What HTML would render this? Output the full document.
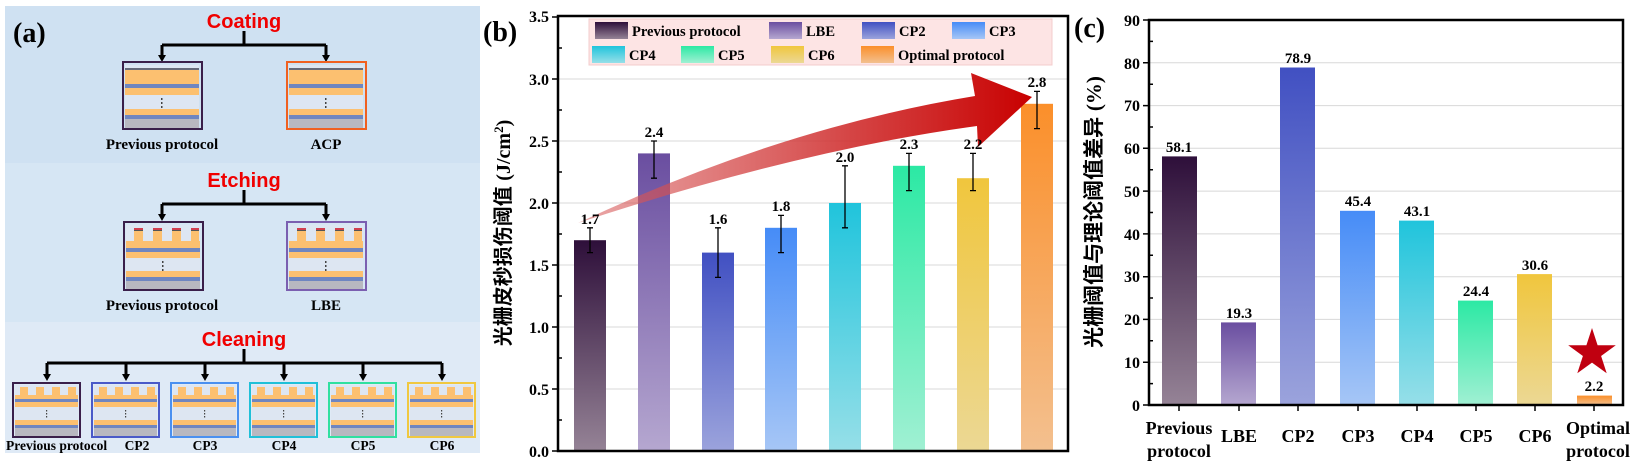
<!DOCTYPE html>
<html><head><meta charset="utf-8"><style>
html,body{margin:0;padding:0;background:#fff;}
svg{display:block;}
.s{font-family:"Liberation Serif","Noto Serif CJK SC",serif;font-weight:bold;}
.h{font-family:"Liberation Sans","Noto Sans CJK SC",sans-serif;font-weight:bold;}
</style></head><body>
<svg width="1635" height="469" viewBox="0 0 1635 469" xmlns="http://www.w3.org/2000/svg">
<defs>
<linearGradient id="g0" x1="0" y1="0" x2="0" y2="1"><stop offset="0" stop-color="#2e0f3a"/><stop offset="1" stop-color="#958396"/></linearGradient>
<linearGradient id="g1" x1="0" y1="0" x2="0" y2="1"><stop offset="0" stop-color="#6a4ea0"/><stop offset="1" stop-color="#b5a7d0"/></linearGradient>
<linearGradient id="g2" x1="0" y1="0" x2="0" y2="1"><stop offset="0" stop-color="#4150c2"/><stop offset="1" stop-color="#9ba3dc"/></linearGradient>
<linearGradient id="g3" x1="0" y1="0" x2="0" y2="1"><stop offset="0" stop-color="#468cf7"/><stop offset="1" stop-color="#a6c6f6"/></linearGradient>
<linearGradient id="g4" x1="0" y1="0" x2="0" y2="1"><stop offset="0" stop-color="#20c4dc"/><stop offset="1" stop-color="#96dfe8"/></linearGradient>
<linearGradient id="g5" x1="0" y1="0" x2="0" y2="1"><stop offset="0" stop-color="#2ce9a4"/><stop offset="1" stop-color="#a0f0d3"/></linearGradient>
<linearGradient id="g6" x1="0" y1="0" x2="0" y2="1"><stop offset="0" stop-color="#f0c63d"/><stop offset="1" stop-color="#ecd894"/></linearGradient>
<linearGradient id="g7" x1="0" y1="0" x2="0" y2="1"><stop offset="0" stop-color="#fb8f2a"/><stop offset="1" stop-color="#f3c08f"/></linearGradient>
<linearGradient id="ar" x1="578" y1="0" x2="1032" y2="0" gradientUnits="userSpaceOnUse"><stop offset="0" stop-color="#d86060" stop-opacity="0.55"/><stop offset="0.6" stop-color="#d03030" stop-opacity="0.9"/><stop offset="1" stop-color="#c80000"/></linearGradient>
<g id="stC">
<rect x="0" y="0" width="74" height="61" fill="#dde6f2"/>
<rect x="0" y="3" width="74" height="2" fill="#666a7a"/>
<rect x="0" y="5" width="74" height="14" fill="#fcc070"/>
<rect x="0" y="19" width="74" height="4" fill="#6f86c0"/>
<rect x="0" y="23" width="74" height="7" fill="#fcc070"/>
<rect x="36" y="33" width="1.5" height="2" fill="#444"/><rect x="36" y="37" width="1.5" height="2" fill="#444"/><rect x="36" y="41" width="1.5" height="2" fill="#444"/>
<rect x="0" y="44" width="74" height="6" fill="#fcc070"/>
<rect x="0" y="50" width="74" height="4" fill="#6f86c0"/>
<rect x="0" y="54" width="74" height="10" fill="#b8b8c0"/>
</g>
<g id="stE">
<rect x="0" y="0" width="74" height="62" fill="#dde6f2"/>
<rect x="8" y="3" width="9" height="2" fill="#d04050"/><rect x="27" y="3" width="9" height="2" fill="#d04050"/><rect x="46" y="3" width="9" height="2" fill="#d04050"/><rect x="65" y="3" width="8" height="2" fill="#d04050"/>
<rect x="8" y="5" width="9" height="1" fill="#555"/><rect x="27" y="5" width="9" height="1" fill="#555"/><rect x="46" y="5" width="9" height="1" fill="#555"/><rect x="65" y="5" width="8" height="1" fill="#555"/>
<rect x="8" y="6" width="9" height="12" fill="#fcc070"/><rect x="27" y="6" width="9" height="12" fill="#fcc070"/><rect x="46" y="6" width="9" height="12" fill="#fcc070"/><rect x="65" y="6" width="8" height="12" fill="#fcc070"/>
<rect x="0" y="16" width="74" height="7" fill="#fcc070"/>
<rect x="0" y="23" width="74" height="4" fill="#6f86c0"/>
<rect x="0" y="27" width="74" height="6" fill="#fcc070"/>
<rect x="36" y="36" width="1.5" height="2" fill="#444"/><rect x="36" y="40" width="1.5" height="2" fill="#444"/><rect x="36" y="44" width="1.5" height="2" fill="#444"/>
<rect x="0" y="46" width="74" height="6" fill="#fcc070"/>
<rect x="0" y="52" width="74" height="4" fill="#6f86c0"/>
<rect x="0" y="56" width="74" height="9" fill="#b8b8c0"/>
</g>
<g id="stK">
<rect x="0" y="0" width="63" height="50" fill="#dde6f2"/>
<rect x="5" y="2" width="8" height="9" fill="#fcc070"/><rect x="21" y="2" width="8" height="9" fill="#fcc070"/><rect x="37" y="2" width="8" height="9" fill="#fcc070"/><rect x="53" y="2" width="8" height="9" fill="#fcc070"/>
<rect x="0" y="10" width="63" height="4" fill="#fcc070"/>
<rect x="0" y="14" width="63" height="3" fill="#6f86c0"/>
<rect x="0" y="17" width="63" height="5" fill="#fcc070"/>
<rect x="31" y="25" width="1.2" height="1.5" fill="#444"/><rect x="31" y="28" width="1.2" height="1.5" fill="#444"/><rect x="31" y="31" width="1.2" height="1.5" fill="#444"/>
<rect x="0" y="35" width="63" height="5" fill="#fcc070"/>
<rect x="0" y="40" width="63" height="3" fill="#6f86c0"/>
<rect x="0" y="43" width="63" height="8" fill="#b8b8c0"/>
</g>
</defs>

<!-- Panel a -->
<rect x="5" y="6" width="475" height="157" fill="#cfe1f2"/>
<rect x="5" y="163" width="475" height="159" fill="#d6e6f4"/>
<rect x="5" y="322" width="475" height="131" fill="#dfeaf6"/>
<text x="13" y="42" class="s" font-size="28">(a)</text>

<text x="244" y="28" class="h" font-size="20" fill="#f00000" text-anchor="middle">Coating</text>
<path d="M244 31 V45 M162 45 H326 M162 45 V57 M326 45 V57" stroke="#000" stroke-width="3" fill="none"/>
<path d="M158 55 L166 55 L162 62 Z M322 55 L330 55 L326 62 Z" fill="#000"/>
<use href="#stC" x="125" y="65"/><rect x="123" y="62" width="79" height="67" fill="none" stroke="#3a1f4a" stroke-width="2"/>
<use href="#stC" x="289" y="65"/><rect x="287" y="62" width="79" height="67" fill="none" stroke="#f06020" stroke-width="2"/>
<text x="162" y="149" class="s" font-size="15" text-anchor="middle">Previous protocol</text>
<text x="326" y="149" class="s" font-size="15" text-anchor="middle">ACP</text>

<text x="244" y="187" class="h" font-size="20" fill="#f00000" text-anchor="middle">Etching</text>
<path d="M244 190 V204 M162 204 H326 M162 204 V216 M326 204 V216" stroke="#000" stroke-width="3" fill="none"/>
<path d="M158 214 L166 214 L162 221 Z M322 214 L330 214 L326 221 Z" fill="#000"/>
<use href="#stE" x="126" y="225"/><rect x="124" y="222" width="79" height="68" fill="none" stroke="#3a1f4a" stroke-width="2"/>
<use href="#stE" x="289" y="225"/><rect x="287" y="222" width="79" height="68" fill="none" stroke="#7b5fb0" stroke-width="2"/>
<text x="162" y="310" class="s" font-size="15" text-anchor="middle">Previous protocol</text>
<text x="326" y="310" class="s" font-size="15" text-anchor="middle">LBE</text>

<text x="244" y="346" class="h" font-size="20" fill="#f00000" text-anchor="middle">Cleaning</text>
<path d="M244 349 V363 M47 363 H442 M47 363 V376 M126 363 V376 M205 363 V376 M284 363 V376 M363 363 V376 M442 363 V376" stroke="#000" stroke-width="3" fill="none"/>
<path d="M43 374 L51 374 L47 381 Z M122 374 L130 374 L126 381 Z M201 374 L209 374 L205 381 Z M280 374 L288 374 L284 381 Z M359 374 L367 374 L363 381 Z M438 374 L446 374 L442 381 Z" fill="#000"/>
<use href="#stK" x="15" y="385"/><rect x="13" y="383" width="67" height="54" fill="none" stroke="#3a1f4a" stroke-width="2"/>
<use href="#stK" x="94" y="385"/><rect x="92" y="383" width="67" height="54" fill="none" stroke="#4a5ac8" stroke-width="2"/>
<use href="#stK" x="173" y="385"/><rect x="171" y="383" width="67" height="54" fill="none" stroke="#4a90f0" stroke-width="2"/>
<use href="#stK" x="252" y="385"/><rect x="250" y="383" width="67" height="54" fill="none" stroke="#20c0d8" stroke-width="2"/>
<use href="#stK" x="331" y="385"/><rect x="329" y="383" width="67" height="54" fill="none" stroke="#30e0a0" stroke-width="2"/>
<use href="#stK" x="410" y="385"/><rect x="408" y="383" width="67" height="54" fill="none" stroke="#f0c840" stroke-width="2"/>
<text x="6" y="450" class="s" font-size="13.5">Previous protocol</text>
<text x="137" y="450" class="s" font-size="13.5" text-anchor="middle">CP2</text>
<text x="205" y="450" class="s" font-size="13.5" text-anchor="middle">CP3</text>
<text x="284" y="450" class="s" font-size="13.5" text-anchor="middle">CP4</text>
<text x="363" y="450" class="s" font-size="13.5" text-anchor="middle">CP5</text>
<text x="442" y="450" class="s" font-size="13.5" text-anchor="middle">CP6</text>

<!-- Panel b -->
<g stroke="#d8d8d8" stroke-width="1">
<line x1="558" y1="389" x2="1068" y2="389"/><line x1="558" y1="327" x2="1068" y2="327"/><line x1="558" y1="265" x2="1068" y2="265"/><line x1="558" y1="203" x2="1068" y2="203"/><line x1="558" y1="141" x2="1068" y2="141"/><line x1="558" y1="79" x2="1068" y2="79"/>
</g>
<rect x="574" y="240.2" width="32" height="210.8" fill="url(#g0)"/>
<rect x="638" y="153.4" width="32" height="297.6" fill="url(#g1)"/>
<rect x="702" y="252.6" width="32" height="198.4" fill="url(#g2)"/>
<rect x="765" y="227.8" width="32" height="223.2" fill="url(#g3)"/>
<rect x="829" y="203" width="32" height="248" fill="url(#g4)"/>
<rect x="893" y="165.8" width="32" height="285.2" fill="url(#g5)"/>
<rect x="957" y="178.2" width="32" height="272.8" fill="url(#g6)"/>
<rect x="1021" y="103.8" width="32" height="347.2" fill="url(#g7)"/>
<path d="M578 223 Q780 128 975 96 L971 73 L1032 97 L978 147 L977 126 Q800 150 578 223 Z" fill="url(#ar)"/>
<g stroke="#000" stroke-width="1.3">
<path d="M590 252.6 V227.8 M587 252.6 H593 M587 227.8 H593"/>
<path d="M654 178.2 V141 M651 178.2 H657 M651 141 H657"/>
<path d="M718 277.4 V227.8 M715 277.4 H721 M715 227.8 H721"/>
<path d="M781 252.6 V215.4 M778 252.6 H784 M778 215.4 H784"/>
<path d="M845 227.8 V165.8 M842 227.8 H848 M842 165.8 H848"/>
<path d="M909 190.6 V153.4 M906 190.6 H912 M906 153.4 H912"/>
<path d="M973 190.6 V153.4 M970 190.6 H976 M970 153.4 H976"/>
<path d="M1037 128.6 V91.4 M1034 128.6 H1040 M1034 91.4 H1040"/>
</g>
<g class="s" font-size="15" text-anchor="middle">
<text x="590" y="224">1.7</text><text x="654" y="137">2.4</text><text x="718" y="224">1.6</text><text x="781" y="211">1.8</text><text x="845" y="162">2.0</text><text x="909" y="149">2.3</text><text x="973" y="149">2.2</text><text x="1037" y="87">2.8</text>
</g>
<rect x="589" y="19" width="463" height="46" fill="#fde4e4" stroke="#f3cccc" stroke-width="1"/>
<rect x="595" y="22" width="33" height="17" fill="url(#g0)"/><text x="632" y="36" class="s" font-size="14.5">Previous protocol</text>
<rect x="769" y="22" width="33" height="17" fill="url(#g1)"/><text x="806" y="36" class="s" font-size="14.5">LBE</text>
<rect x="862" y="22" width="33" height="17" fill="url(#g2)"/><text x="899" y="36" class="s" font-size="14.5">CP2</text>
<rect x="952" y="22" width="33" height="17" fill="url(#g3)"/><text x="989" y="36" class="s" font-size="14.5">CP3</text>
<rect x="592" y="46" width="33" height="17" fill="url(#g4)"/><text x="629" y="60" class="s" font-size="14.5">CP4</text>
<rect x="681" y="46" width="33" height="17" fill="url(#g5)"/><text x="718" y="60" class="s" font-size="14.5">CP5</text>
<rect x="771" y="46" width="33" height="17" fill="url(#g6)"/><text x="808" y="60" class="s" font-size="14.5">CP6</text>
<rect x="861" y="46" width="33" height="17" fill="url(#g7)"/><text x="898" y="60" class="s" font-size="14.5">Optimal protocol</text>
<rect x="558" y="16" width="510" height="435" fill="none" stroke="#000" stroke-width="2.5"/>
<g stroke="#000" stroke-width="1.5">
<path d="M552 451 H558 M552 389 H558 M552 327 H558 M552 265 H558 M552 203 H558 M552 141 H558 M552 79 H558 M552 17 H558"/>
<path d="M558 420 H562 M558 358 H562 M558 296 H562 M558 234 H562 M558 172 H562 M558 110 H562 M558 48 H562"/>
</g>
<g class="s" font-size="16" text-anchor="end">
<text x="549" y="457">0.0</text><text x="549" y="395">0.5</text><text x="549" y="333">1.0</text><text x="549" y="271">1.5</text><text x="549" y="209">2.0</text><text x="549" y="147">2.5</text><text x="549" y="85">3.0</text><text x="549" y="22">3.5</text>
</g>
<text x="483" y="41" class="s" font-size="28">(b)</text>
<text transform="translate(510,233) rotate(-90)" text-anchor="middle" font-size="20" font-weight="bold"><tspan font-family="Liberation Sans,Noto Sans CJK SC,sans-serif">光栅皮秒损伤阈值 </tspan><tspan font-family="Liberation Serif,serif">(J/cm</tspan><tspan font-family="Liberation Serif,serif" font-size="13" dy="-7">2</tspan><tspan font-family="Liberation Serif,serif" dy="7">)</tspan></text>

<!-- Panel c -->
<g stroke="#d8d8d8" stroke-width="1">
<line x1="1149" y1="362.2" x2="1623" y2="362.2"/><line x1="1149" y1="319.4" x2="1623" y2="319.4"/><line x1="1149" y1="276.7" x2="1623" y2="276.7"/><line x1="1149" y1="233.9" x2="1623" y2="233.9"/><line x1="1149" y1="191.1" x2="1623" y2="191.1"/><line x1="1149" y1="148.3" x2="1623" y2="148.3"/><line x1="1149" y1="105.6" x2="1623" y2="105.6"/><line x1="1149" y1="62.8" x2="1623" y2="62.8"/>
</g>
<rect x="1162" y="156.4" width="35" height="248.6" fill="url(#g0)"/>
<rect x="1221" y="322.4" width="35" height="82.6" fill="url(#g1)"/>
<rect x="1280" y="67.5" width="35" height="337.5" fill="url(#g2)"/>
<rect x="1340" y="210.8" width="35" height="194.2" fill="url(#g3)"/>
<rect x="1399" y="220.6" width="35" height="184.4" fill="url(#g4)"/>
<rect x="1458" y="300.6" width="35" height="104.4" fill="url(#g5)"/>
<rect x="1517" y="274.1" width="35" height="130.9" fill="url(#g6)"/>
<rect x="1577" y="395.6" width="35" height="9.4" fill="url(#g7)"/>
<g class="s" font-size="15" text-anchor="middle">
<text x="1179" y="152">58.1</text><text x="1239" y="318">19.3</text><text x="1298" y="63">78.9</text><text x="1358" y="206">45.4</text><text x="1417" y="216">43.1</text><text x="1476" y="296">24.4</text><text x="1535" y="270">30.6</text><text x="1594" y="391">2.2</text>
</g>
<polygon points="1592,328 1597.6,345.3 1615.8,345.3 1601.1,356 1606.7,373.2 1592,362.6 1577.3,373.2 1582.9,356 1568.2,345.3 1586.4,345.3" fill="#c00010"/>
<rect x="1149" y="20" width="474" height="385" fill="none" stroke="#000" stroke-width="2.5"/>
<g stroke="#000" stroke-width="1.5">
<path d="M1143 405 H1149 M1143 362.2 H1149 M1143 319.4 H1149 M1143 276.7 H1149 M1143 233.9 H1149 M1143 191.1 H1149 M1143 148.3 H1149 M1143 105.6 H1149 M1143 62.8 H1149 M1143 20 H1149"/>
<path d="M1149 383.6 H1153 M1149 340.8 H1153 M1149 298 H1153 M1149 255.3 H1153 M1149 212.5 H1153 M1149 169.7 H1153 M1149 127 H1153 M1149 84.2 H1153 M1149 41.4 H1153"/>
<path d="M1179 405 V411 M1239 405 V411 M1298 405 V411 M1358 405 V411 M1417 405 V411 M1476 405 V411 M1535 405 V411 M1594 405 V411"/>
</g>
<g class="s" font-size="16" text-anchor="end">
<text x="1140" y="411">0</text><text x="1140" y="368">10</text><text x="1140" y="325">20</text><text x="1140" y="282">30</text><text x="1140" y="240">40</text><text x="1140" y="197">50</text><text x="1140" y="154">60</text><text x="1140" y="111">70</text><text x="1140" y="69">80</text><text x="1140" y="26">90</text>
</g>
<g class="s" font-size="18" text-anchor="middle">
<text x="1179" y="434">Previous</text><text x="1179" y="457">protocol</text>
<text x="1239" y="442">LBE</text><text x="1298" y="442">CP2</text><text x="1358" y="442">CP3</text><text x="1417" y="442">CP4</text><text x="1476" y="442">CP5</text><text x="1535" y="442">CP6</text>
<text x="1598" y="434">Optimal</text><text x="1598" y="457">protocol</text>
</g>
<text x="1074" y="37" class="s" font-size="28">(c)</text>
<text transform="translate(1101,212) rotate(-90)" text-anchor="middle" font-size="21" font-weight="bold"><tspan font-family="Liberation Sans,Noto Sans CJK SC,sans-serif">光栅阈值与理论阈值差异 </tspan><tspan font-family="Liberation Serif,serif">(%)</tspan></text>
</svg>
</body></html>
